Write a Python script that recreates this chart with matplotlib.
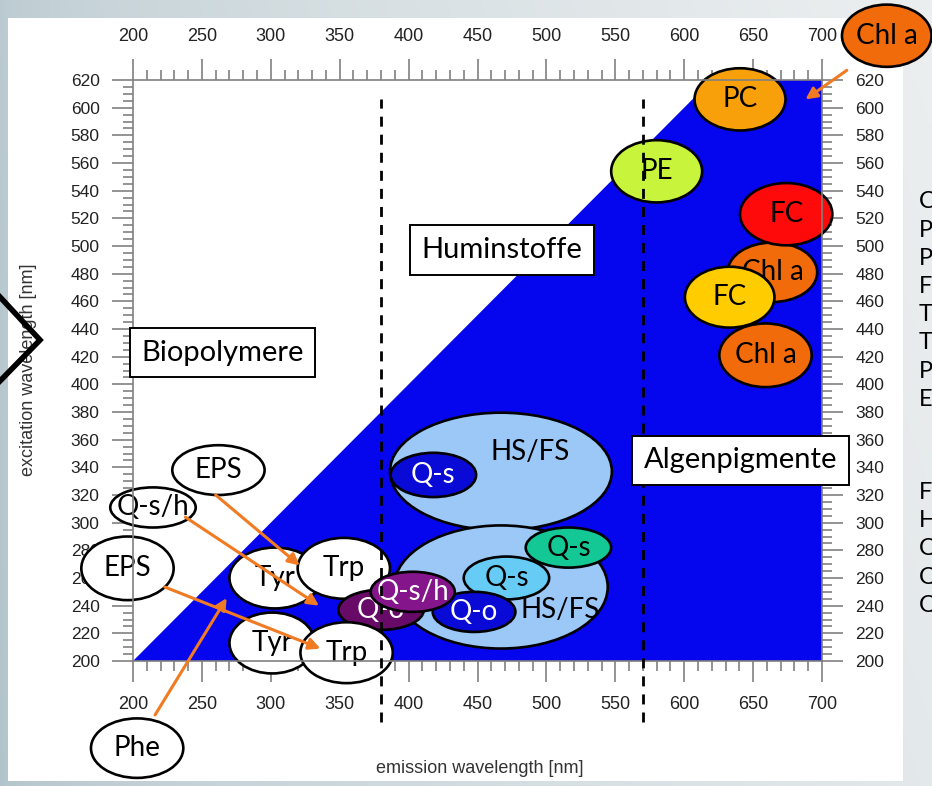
import matplotlib.pyplot as plt
import numpy as np
from matplotlib.lines import Line2D
from matplotlib.patches import Ellipse, Polygon, Rectangle

# fluorophore groups: emission / excitation centre and extent [nm]
peak_labels = ["HS/FS", "Q-s", "HS/FS", "Q-s", "Q-s", "Q-o", "Tyr", "Trp", "Q-o", "Q-s/h",
               "Tyr", "Trp", "EPS", "Q-s/h", "EPS", "Phe",
               "Chl a", "Chl a", "FC", "FC", "PE", "PC", "Chl a"]
em_center = [467, 418, 467, 516, 471, 447.5, 303, 353, 380, 403,
             301, 355, 262, 214.5, 196, 203,
             659, 664, 674, 633, 580, 640.5, 747]
ex_center = [337, 334.5, 253.5, 282, 260, 235.5, 260, 267, 237, 250,
             213, 206, 338, 311, 267, 137,
             421, 481, 523, 463, 554, 606, 652]
em_width = [161, 62, 155, 62, 62, 60, 66, 67, 62, 61,
            62, 67, 67, 62, 67, 67,
            67, 65, 67, 65, 66, 66, 65]
ex_height = [85, 32, 89, 29, 31, 29, 44, 44, 29, 29,
             44, 44, 36, 29, 46, 43,
             46, 43, 45, 44, 45, 45, 45]

# label positions inside the two large HS/FS ellipses
hs_label_em = [488, 510]
hs_label_ex = [351, 237]

fill_colors = ["#9cc8f8", "#0a0ad6", "#9cc8f8", "#14c896", "#66ccf5", "#0a0ad6",
               "white", "white", "#680a68", "#85158a",
               "white", "white", "white", "white", "white", "white",
               "#f26b0a", "#f26b0a", "#fe0a0a", "#ffcc00", "#c8f53c", "#f7a00a", "#f26b0a"]
text_colors = ["black", "white", "black", "black", "black", "white",
               "black", "black", "white", "white"] + ["black"] * 13

# Rayleigh-free measuring range (em >= ex)
range_em = [200, 620, 700, 700]
range_ex = [200, 620, 620, 200]

# borders between the regions
region_limits = [380, 570]
region_names = ["Biopolymere", "Huminstoffe", "Algenpigmente"]
region_em = [265, 468, 641]
region_ex = [423, 497, 345]

# arrows: (em, ex) start -> end
arrow_start_em = [260, 238, 223, 216, 718]
arrow_start_ex = [320, 304, 253.5, 161, 627]
arrow_end_em = [321, 335, 336, 268, 688]
arrow_end_ex = [269, 240, 209, 245.5, 606]

side_terms = ["Chl a", "PC", "PE", "FC", "Tyr", "Trp", "Phe", "EPS"]
side_terms2 = ["FS", "HS", "Q-s", "Q-o", "Q-s/h"]

W, H = 932, 786
fig = plt.figure(figsize=(W / 100, H / 100), dpi=100)

# slide background with gradient and white content panel
bg = fig.add_axes([0, 0, 1, 1], zorder=-5)
gx = np.linspace(0, 1, 300)
gy = np.linspace(0, 1, 200)
GX, GY = np.meshgrid(gx, gy)
t = np.clip(GX ** 0.6 * 0.85 + (1 - GY) * 0.15, 0, 1)
c0 = np.array([178, 196, 203]) / 255
c1 = np.array([236, 239, 240]) / 255
img = c0[None, None, :] * (1 - t[..., None]) + c1[None, None, :] * t[..., None]
bg.imshow(img, extent=[0, W, H, 0], aspect="auto")
bg.add_patch(Rectangle((8, 18), 895, 763, facecolor="white", edgecolor="none"))
bg.set_xlim(0, W)
bg.set_ylim(H, 0)
bg.axis("off")

ax = fig.add_axes([133 / W, 1 - 661 / H, 689 / W, 581 / H])
ax.set_facecolor("none")
ax.set_xlim(200, 700)
ax.set_ylim(200, 620)

ax.add_patch(Polygon(list(zip(range_em, range_ex)), closed=True,
                     facecolor="#0505ee", edgecolor="none", zorder=1))

for i, lab in enumerate(peak_labels):
    ax.add_patch(Ellipse((em_center[i], ex_center[i]), em_width[i], ex_height[i],
                         facecolor=fill_colors[i], edgecolor="black", lw=1.9,
                         clip_on=False, zorder=2 + i * 0.01))
    if lab == "HS/FS":
        k = 0 if i == 0 else 1
        tx, ty = hs_label_em[k], hs_label_ex[k]
    else:
        tx, ty = em_center[i], ex_center[i]
    ax.text(tx, ty, lab, ha="center", va="center", fontsize=20, family="Lato",
            color=text_colors[i], zorder=2 + i * 0.01 + 0.005, clip_on=False)

for i in range(len(arrow_start_em)):
    ax.annotate("", xy=(arrow_end_em[i], arrow_end_ex[i]),
                xytext=(arrow_start_em[i], arrow_start_ex[i]),
                arrowprops=dict(arrowstyle="-|>", color="#f07b22", lw=2.2,
                                mutation_scale=17, shrinkA=0, shrinkB=0),
                annotation_clip=False, zorder=4)

for xv in region_limits:
    ax.plot([xv, xv], [156, 606], color="black", lw=2.0,
            linestyle=(0, (3.6, 2.9)), clip_on=False, zorder=5)

for name, ex_, ey_ in zip(region_names, region_em, region_ex):
    ax.text(ex_, ey_, name, ha="center", va="center", fontsize=21, family="Lato",
            zorder=6, bbox=dict(boxstyle="square,pad=0.4", facecolor="white",
                                edgecolor="black", lw=1.4))

# axes frame and ticks
for sp in ax.spines.values():
    sp.set_color("#808080")
    sp.set_linewidth(1.2)
ax.set_xticks(np.arange(200, 701, 50))
ax.set_xticks(np.arange(200, 701, 10), minor=True)
ax.set_yticks(np.arange(200, 621, 20))
ax.set_yticks(np.arange(200, 621, 5), minor=True)
ax.tick_params(axis="x", which="both", direction="out", top=True, bottom=True,
               labeltop=True, labelbottom=True, color="#808080", width=1.2,
               labelsize=13, labelcolor="#222222", pad=10)
ax.tick_params(axis="y", which="both", direction="out", left=True, right=True,
               labelleft=True, labelright=True, color="#808080", width=1.2,
               labelsize=12.5, labelcolor="#222222", pad=9)
ax.tick_params(which="major", length=15)
ax.tick_params(which="minor", length=7.5)
for tk in ax.xaxis.get_major_ticks() + ax.yaxis.get_major_ticks():
    tk.label1.set_fontfamily("Liberation Sans")
    tk.label2.set_fontfamily("Liberation Sans")

ax.set_xlabel("emission wavelength [nm]", fontsize=13, color="#333333",
              family="Liberation Sans")
ax.xaxis.set_label_coords((480 - 133) / 689, (661 - 760) / 581)
ax.set_ylabel("excitation wavelength [nm]", fontsize=13, color="#333333",
              family="Liberation Sans")
ax.yaxis.set_label_coords((37 - 133) / 689, (661 - 370) / 581)

# abbreviation list running off the slide edge
for k, term in enumerate(side_terms):
    fig.text(919 / W, 1 - (202 + 28.2 * k) / H, term, fontsize=17, family="Lato",
             va="center", ha="left")
for k, term in enumerate(side_terms2):
    fig.text(919 / W, 1 - (492 + 28.2 * k) / H, term, fontsize=17, family="Lato",
             va="center", ha="left")

# slide chevron
fig.add_artist(Line2D([0, 40 / W, 0], [1 - 297 / H, 1 - 340 / H, 1 - 381 / H],
                      transform=fig.transFigure, color="black", lw=4,
                      solid_joinstyle="miter", zorder=10))

fig.savefig("out.png", dpi=100)
